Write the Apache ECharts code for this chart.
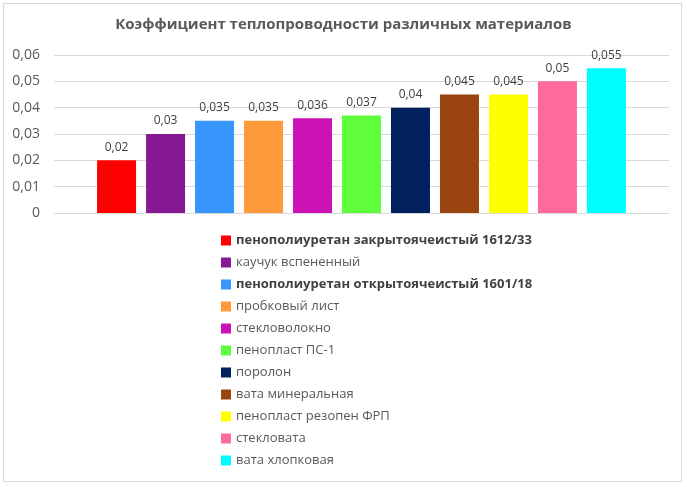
<!DOCTYPE html>
<html>
<head>
<meta charset="utf-8">
<title>Коэффициент теплопроводности</title>
<script src="https://cdn.jsdelivr.net/npm/echarts@6/dist/echarts.min.js"></script>
<style>
html,body{margin:0;padding:0;background:#fff;}
#frame{position:absolute;left:3px;top:3px;width:677px;height:477px;border:1px solid #d9d9d9;}
#chart{position:absolute;left:0;top:0;width:687px;height:487px;}
</style>
</head>
<body>
<div id="frame"></div>
<div id="chart"></div>
<script>

const materials = [
  "пенополиуретан закрытоячеистый 1612/33",
  "каучук вспененный",
  "пенополиуретан открытоячеистый 1601/18",
  "пробковый лист",
  "стекловолокно",
  "пенопласт ПС-1",
  "поролон",
  "вата минеральная",
  "пенопласт резопен ФРП",
  "стекловата",
  "вата хлопковая"
]

const values = [0.02, 0.03, 0.035, 0.035, 0.036, 0.037, 0.04, 0.045, 0.045, 0.05, 0.055]

const colors = ["#ff0000","#871a93","#3796fb","#fe9a3a","#cb12b4","#60fd3d","#01205e","#9a4510","#ffff00","#fe6a9b","#00fefe"]

const boldNames = ["пенополиуретан закрытоячеистый 1612/33","пенополиуретан открытоячеистый 1601/18"]

const yTicks = [0, 0.01, 0.02, 0.03, 0.04, 0.05, 0.06]

const comma = v => String(v).replace(".", ",")

const chart = echarts.init(document.getElementById("chart"))

const series = materials.map((name, i) => ({
  name: name,
  type: "bar",
  data: [values[i]],
  barWidth: 39,
  barGap: "25.6%",
  itemStyle: { color: colors[i] },
  label: {
    show: true,
    position: "top",
    distance: 7,
    color: "#404040",
    fontSize: 12,
    fontFamily: "Open Sans",
    formatter: p => comma(p.value)
  }
}))

chart.setOption({
  animation: false,
  title: {
    text: "Коэффициент теплопроводности различных материалов",
    left: "center",
    top: 12,
    textStyle: { color: "#595959", fontSize: 15, fontWeight: "bold", fontFamily: "Open Sans" }
  },
  grid: { left: 54, right: 18, top: 55, bottom: 274 },
  xAxis: {
    type: "category",
    data: [""],
    axisLine: { show: false },
    axisTick: { show: false },
    axisLabel: { show: false }
  },
  yAxis: {
    type: "value",
    min: yTicks[0],
    max: yTicks[yTicks.length - 1],
    interval: 0.01,
    axisLine: { show: false },
    axisTick: { show: false },
    axisLabel: {
      color: "#595959",
      fontSize: 14,
      fontFamily: "Open Sans",
      margin: 14,
      formatter: v => comma(+v.toFixed(2))
    },
    splitLine: { lineStyle: { color: "#d9d9d9", width: 1 } }
  },
  legend: {
    orient: "vertical",
    left: 216,
    top: 229,
    height: 250,
    itemWidth: 10,
    itemHeight: 10,
    itemGap: 9,
    icon: "rect",
    data: materials,
    formatter: name => boldNames.includes(name) ? "{b|" + name + "}" : name,
    textStyle: {
      color: "#595959",
      fontSize: 13,
      fontFamily: "Open Sans",
      rich: {
        b: { fontWeight: "bold", color: "#404040", fontSize: 13, fontFamily: "Open Sans" }
      }
    }
  },
  series: series
})

</script>
</body>
</html>
